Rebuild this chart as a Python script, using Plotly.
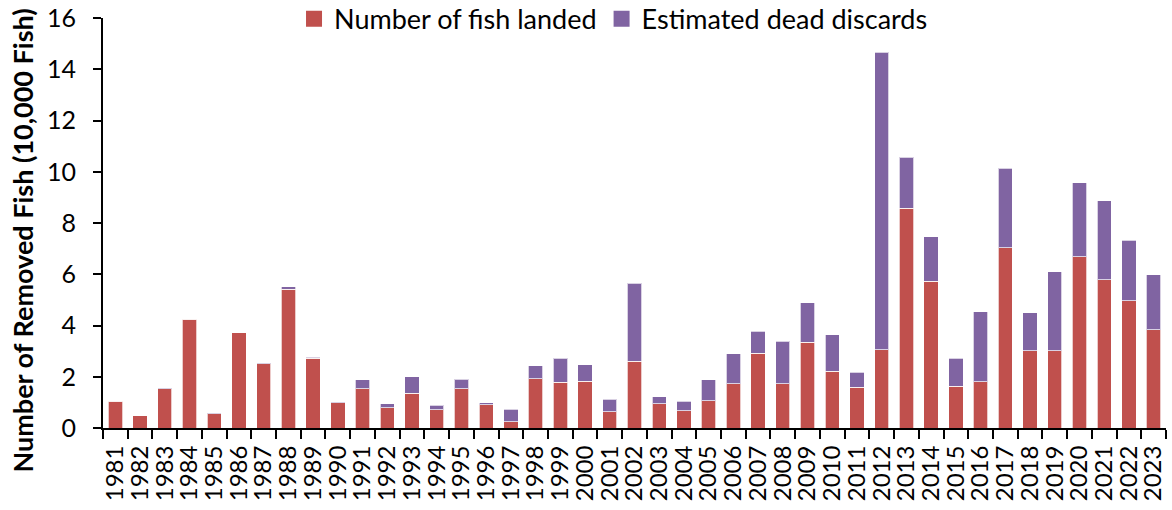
import plotly.graph_objects as go

years = [str(y) for y in range(1981, 2024)]

# totals, landed (10,000 fish)
landed = [1.05, 0.47, 1.54, 4.25, 0.56, 3.71, 2.51, 5.42, 2.73, 0.99,
          1.54, 0.80, 1.35, 0.72, 1.54, 0.90, 0.24, 1.93, 1.78, 1.82,
          0.64, 2.61, 0.95, 0.68, 1.07, 1.73, 2.92, 1.73, 3.35, 2.21,
          1.60, 3.05, 8.58, 5.72, 1.63, 1.80, 7.03, 3.02, 3.02, 6.68,
          5.79, 4.96, 3.83]
total = [1.06, 0.47, 1.55, 4.26, 0.57, 3.72, 2.54, 5.52, 2.76, 1.03,
         1.88, 0.94, 2.00, 0.88, 1.91, 0.99, 0.73, 2.43, 2.72, 2.46,
         1.12, 5.65, 1.22, 1.05, 1.88, 2.90, 3.78, 3.39, 4.88, 3.64,
         2.18, 14.67, 10.57, 7.46, 2.73, 4.54, 10.13, 4.49, 6.09, 9.58,
         8.87, 7.32, 5.98]
discards = [round(t - l, 2) for t, l in zip(total, landed)]

names = ["Number of fish landed", "Estimated dead discards"]
colors = ["#C0504D", "#8064A2"]

font = "Lato"
edge = dict(color="rgba(255,255,255,0.7)", width=1)

fig = go.Figure()
for vals, name, col in zip([landed, discards], names, colors):
    fig.add_trace(go.Bar(x=years, y=vals, name=name, showlegend=False,
                         marker=dict(color=col, line=edge)))
# legend only traces, so the legend squares come out bigger
for name, col in zip(names, colors):
    fig.add_trace(go.Scatter(x=[None], y=[None], mode="markers", name=name,
                             marker=dict(symbol="square", size=16, color=col)))

fig.update_layout(
    barmode="stack",
    bargap=0.42,
    width=1172, height=510,
    margin=dict(l=103, r=6, t=18, b=82, autoexpand=False),
    paper_bgcolor="white", plot_bgcolor="white",
    font=dict(family=font, size=18, color="black"),
    legend=dict(orientation="h", x=0.1797, xanchor="left", y=0.997,
                yanchor="middle", font=dict(size=27), bgcolor="rgba(0,0,0,0)",
                traceorder="normal"),
)
fig.update_xaxes(type="category", tickmode="array", tickvals=years,
                 ticktext=years, tickangle=-90, ticks="outside",
                 tickson="boundaries", ticklen=9, tickwidth=2,
                 tickcolor="black", showline=True, linecolor="black",
                 linewidth=2, showgrid=False, automargin=False,
                 ticklabelstandoff=6, tickfont=dict(size=24))
fig.update_yaxes(range=[0, 16], dtick=2, ticks="outside", ticklen=8,
                 tickwidth=2, tickcolor="black", showline=True,
                 linecolor="black", linewidth=2, showgrid=False,
                 zeroline=False, automargin=False, ticklabelstandoff=12,
                 ticklabeloverflow="allow", tickfont=dict(size=25))

fig.add_annotation(text="<b>Number of Removed Fish (10,000 Fish)</b>",
                   textangle=-90, xref="paper", yref="paper",
                   x=-0.0757, y=0.456, xanchor="center", yanchor="middle",
                   showarrow=False, borderpad=0, font=dict(size=27))

# drop the default 8px body margin so the figure fills the window
fig.write_html("out.html", config={"displayModeBar": False},
               post_script="document.body.style.margin='0px';")
